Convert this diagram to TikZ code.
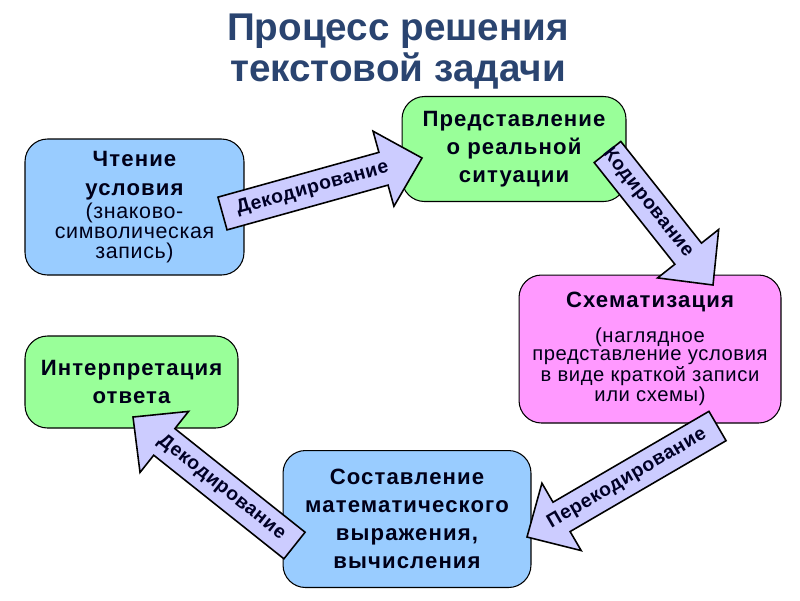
\documentclass[tikz,border=0pt]{standalone}
\usepackage{fontspec}
\setmainfont{Liberation Sans}
\newfontfamily\boxfont[LetterSpace=5]{Liberation Sans}
\newfontfamily\notefont[LetterSpace=3]{Liberation Sans}
\usetikzlibrary{calc}

\definecolor{titleblue}{HTML}{2A4470}
\definecolor{boxblue}{HTML}{99CCFF}
\definecolor{boxgreen}{HTML}{99FF99}
\definecolor{boxpink}{HTML}{FF99FF}
\definecolor{arrowfill}{HTML}{CCCCFF}

% block arrow: [label pos]{tail}{tip}{label}
\newcommand{\blockarrow}[4][0.55]{%
  \coordinate (h) at ($(#3)!0.8cm!(#2)$);
  \draw[arrow body] ($(#2)!0.34cm!90:(#3)$) -- ($(h)!0.34cm!90:(#3)$)
    -- ($(h)!0.78cm!90:(#3)$) -- (#3) -- ($(h)!0.78cm!-90:(#3)$)
    -- ($(h)!0.34cm!-90:(#3)$) -- ($(#2)!0.34cm!-90:(#3)$) -- cycle;
  \path (#2) -- (h) node[pos=#1, sloped, arrow label] {#4};
}
\newcommand{\boldline}[1]{{\boxfont\fontsize{12.6}{16}\selectfont\bfseries #1}}

\begin{document}
\begin{tikzpicture}[
    x=0.02cm, y=-0.02cm,
    box/.style={draw, line width=0.6pt, rounded corners=0.45cm, align=center, text=black!90!blue},
    bold text/.style={font=\boxfont\fontsize{12.6}{16}\selectfont\bfseries},
    arrow body/.style={draw, line width=0.9pt, fill=arrowfill, line join=miter},
    arrow label/.style={font=\notefont\fontsize{11}{12}\selectfont\bfseries, text=black!85!blue, inner sep=0pt}
]
\useasboundingbox (0,0) rectangle (800,600);

% Title
\node[font=\fontsize{22}{23.3}\selectfont\bfseries, text=titleblue, align=center] (title) at (398,52)
    {Процесс решения\\текстовой задачи};

% Boxes
\node[box, fill=boxblue, font=\notefont\fontsize{12.2}{11.3}\selectfont,
      minimum width=4.38cm, minimum height=2.72cm] (read) at (134.5,207)
    {\boldline{Чтение}\\[5pt]
     \boldline{условия}\\[1pt]
     (знаково-\\символическая\\запись)};
\node[box, fill=boxgreen, bold text, minimum width=4.48cm, minimum height=2.1cm] (real) at (514,149)
    {Представление\\о реальной\\ситуации};
\node[box, fill=boxpink, font=\notefont\fontsize{11.5}{10.4}\selectfont,
      minimum width=5.24cm, minimum height=2.96cm] (scheme) at (650,349)
    {\boldline{Схематизация}\\[8pt]
     (наглядное\\представление условия\\в виде краткой записи\\или схемы)};
\node[box, fill=boxblue, bold text, minimum width=4.96cm, minimum height=2.74cm] (expr) at (407,519)
    {Составление\\математического\\выражения,\\вычисления};
\node[box, fill=boxgreen, bold text, minimum width=4.26cm, minimum height=1.84cm] (interp) at (131.5,382)
    {Интерпретация\\ответа};

% Arrow ends
\coordinate (dec1s) at (222.5,213.5);
\coordinate (dec1e) at (422,158);
\coordinate (cods) at (607.5,152);
\coordinate (code) at (713,285);
\coordinate (recs) at (717.5,426);
\coordinate (rece) at (527,537);
\coordinate (dec2s) at (294.5,545.5);
\coordinate (dec2e) at (133,417);

% Arrows
\blockarrow[0.56]{dec1s}{dec1e}{Декодирование}
\blockarrow[0.5]{cods}{code}{Кодирование}
\blockarrow[0.58]{recs}{rece}{Перекодирование}
\blockarrow[0.56]{dec2s}{dec2e}{Декодирование}

\end{tikzpicture}
\end{document}
